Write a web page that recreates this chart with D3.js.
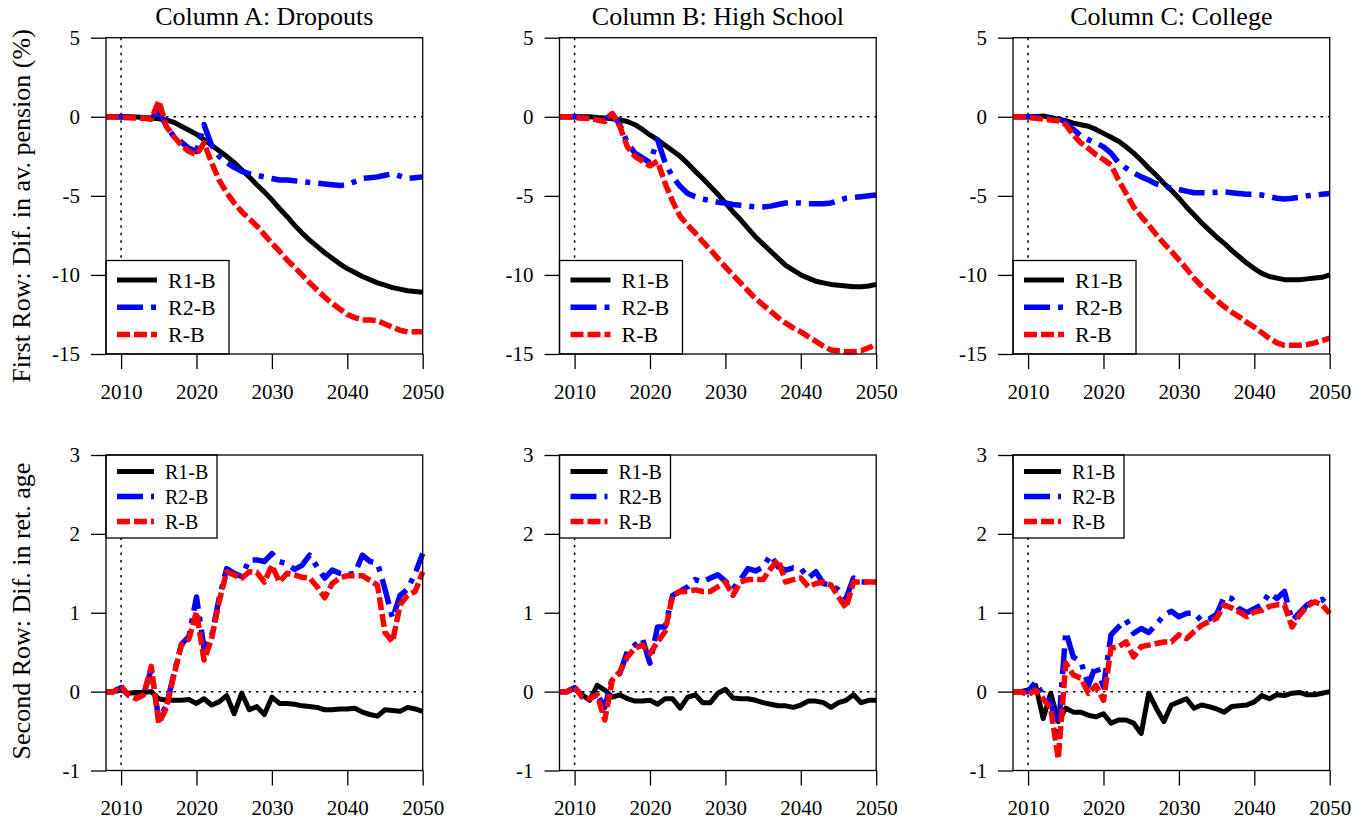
<!DOCTYPE html>
<html>
<head>
<meta charset="utf-8">
<script src="https://cdn.jsdelivr.net/npm/d3@7"></script>
<style>
  body { margin: 0; background: #fff; }
  svg text { font-family: "Liberation Serif", "DejaVu Serif", serif; fill: #000; }
</style>
</head>
<body>
<div id="chart"></div>
<script>
const years = [2008, 2009, 2010, 2011, 2012, 2013, 2014, 2015, 2016, 2017, 2018, 2019, 2020,
  2021, 2022, 2023, 2024, 2025, 2026, 2027, 2028, 2029, 2030, 2031, 2032, 2033, 2034, 2035,
  2036, 2037, 2038, 2039, 2040, 2041, 2042, 2043, 2044, 2045, 2046, 2047, 2048, 2049, 2050];

const columnTitles = ["Column A: Dropouts", "Column B: High School", "Column C: College"];
const rowTitles = ["First Row: Dif. in av. pension (%)", "Second Row: Dif. in ret. age"];
const seriesNames = ["R1-B", "R2-B", "R-B"];
const xTicks = [2010, 2020, 2030, 2040, 2050];
const yTicksTop = [5, 0, -5, -10, -15];
const yTicksBottom = [3, 2, 1, 0, -1];

// first row: difference in average pension (%)
const pensionA_R1 = [0, 0, 0, 0, -0.02, -0.05, -0.08, -0.12, -0.2, -0.35, -0.6, -0.85, -1.1, -1.45, -1.8, -2.15, -2.5, -2.9, -3.35, -3.8, -4.3, -4.75, -5.25, -5.8, -6.3, -6.85, -7.35, -7.8, -8.2, -8.6, -8.95, -9.3, -9.6, -9.85, -10.1, -10.3, -10.5, -10.65, -10.8, -10.9, -11.0, -11.05, -11.1];
const pensionA_R2 = [0, 0, -0.02, -0.05, -0.05, -0.08, -0.1, 0.4, -0.6, -1.25, -1.6, -2.0, -2.2, -0.5, -1.8, -2.5, -2.9, -3.2, -3.45, -3.6, -3.7, -3.8, -3.9, -4.0, -4.0, -4.05, -4.1, -4.15, -4.2, -4.25, -4.3, -4.35, -4.3, -4.1, -3.9, -3.85, -3.8, -3.7, -3.6, -3.75, -3.9, -3.85, -3.8];
const pensionA_R = [0, 0, -0.05, -0.05, -0.1, -0.1, -0.15, 1.0, -0.6, -1.25, -1.8, -2.2, -2.4, -1.65, -2.9, -4.0, -4.8, -5.45, -6.0, -6.45, -6.9, -7.45, -8.0, -8.5, -9.05, -9.5, -10.0, -10.5, -10.95, -11.4, -11.8, -12.15, -12.5, -12.7, -12.85, -12.85, -12.9, -13.1, -13.3, -13.5, -13.6, -13.6, -13.6];

const pensionB_R1 = [0, 0, 0, 0, 0, -0.05, -0.08, -0.12, -0.2, -0.3, -0.5, -0.8, -1.15, -1.45, -1.8, -2.15, -2.5, -2.95, -3.45, -3.9, -4.4, -4.9, -5.45, -6.0, -6.5, -7.05, -7.6, -8.05, -8.5, -8.95, -9.4, -9.7, -10.0, -10.2, -10.4, -10.5, -10.6, -10.65, -10.7, -10.75, -10.75, -10.7, -10.6];
const pensionB_R2 = [0, 0, 0, -0.05, -0.1, -0.15, -0.2, 0.2, -0.5, -1.65, -2.3, -2.6, -2.9, -1.45, -2.9, -3.8, -4.4, -4.85, -5.05, -5.2, -5.3, -5.4, -5.45, -5.55, -5.6, -5.65, -5.7, -5.7, -5.65, -5.55, -5.45, -5.45, -5.45, -5.5, -5.5, -5.5, -5.45, -5.3, -5.15, -5.1, -5.05, -5.0, -4.95];
const pensionB_R = [0, 0, -0.05, -0.1, -0.1, -0.2, -0.3, 0.2, -0.6, -1.9, -2.5, -2.8, -3.1, -2.8, -4.2, -5.35, -6.3, -6.85, -7.35, -7.9, -8.4, -8.95, -9.5, -10.0, -10.5, -11.0, -11.5, -11.9, -12.3, -12.7, -13.05, -13.35, -13.6, -13.9, -14.2, -14.5, -14.75, -14.8, -14.85, -14.85, -14.8, -14.6, -14.4];

const pensionC_R1 = [0, 0, 0, 0.02, 0.05, -0.05, -0.15, -0.25, -0.4, -0.5, -0.6, -0.8, -1.05, -1.3, -1.55, -1.9, -2.3, -2.75, -3.25, -3.7, -4.2, -4.65, -5.15, -5.7, -6.2, -6.7, -7.15, -7.6, -8.0, -8.45, -8.85, -9.25, -9.6, -9.9, -10.1, -10.2, -10.3, -10.3, -10.3, -10.25, -10.2, -10.15, -10.0];
const pensionC_R2 = [0, 0, 0, 0, -0.05, -0.1, -0.1, -0.35, -0.8, -1.2, -1.45, -1.65, -1.9, -2.3, -2.9, -3.25, -3.55, -3.8, -4.0, -4.25, -4.4, -4.5, -4.6, -4.7, -4.8, -4.8, -4.8, -4.78, -4.75, -4.8, -4.85, -4.9, -4.9, -4.95, -5.05, -5.15, -5.2, -5.15, -5.1, -5.0, -4.95, -4.9, -4.85];
const pensionC_R = [0, 0, -0.05, -0.1, -0.15, -0.2, -0.25, -0.5, -1.15, -1.65, -2.0, -2.4, -2.7, -3.05, -4.0, -4.85, -5.7, -6.3, -6.85, -7.45, -8.0, -8.5, -9.05, -9.6, -10.2, -10.7, -11.15, -11.6, -12.0, -12.35, -12.65, -13.0, -13.3, -13.65, -14.0, -14.3, -14.45, -14.45, -14.45, -14.4, -14.3, -14.15, -14.0];

// second row: difference in retirement age
const retireA_R1 = [0, 0, 0.02, -0.02, -0.01, -0.01, 0, -0.09, -0.11, -0.11, -0.11, -0.1, -0.15, -0.09, -0.17, -0.13, -0.05, -0.28, -0.02, -0.23, -0.19, -0.29, -0.07, -0.15, -0.15, -0.16, -0.18, -0.19, -0.2, -0.23, -0.23, -0.22, -0.22, -0.21, -0.26, -0.29, -0.31, -0.23, -0.24, -0.25, -0.2, -0.22, -0.25];
const retireA_R2 = [0, 0, 0.05, -0.05, -0.08, -0.03, 0.28, -0.35, -0.18, 0.22, 0.6, 0.7, 1.2, 0.55, 0.7, 1.18, 1.56, 1.5, 1.46, 1.67, 1.67, 1.65, 1.75, 1.65, 1.62, 1.55, 1.6, 1.73, 1.58, 1.44, 1.54, 1.5, 1.48, 1.5, 1.73, 1.65, 1.63, 1.3, 0.93, 1.22, 1.3, 1.5, 1.75];
const retireA_R = [0, 0, 0.07, -0.05, -0.09, -0.04, 0.32, -0.4, -0.21, 0.21, 0.59, 0.67, 1.01, 0.4, 0.67, 1.14, 1.52, 1.48, 1.44, 1.52, 1.51, 1.39, 1.6, 1.39, 1.5, 1.48, 1.45, 1.44, 1.33, 1.19, 1.37, 1.44, 1.47, 1.47, 1.47, 1.41, 1.35, 0.75, 0.63, 1.1, 1.22, 1.27, 1.52];

const retireB_R1 = [0, 0, 0.04, -0.04, -0.11, 0.08, 0.02, -0.07, -0.04, -0.09, -0.12, -0.12, -0.11, -0.16, -0.09, -0.09, -0.21, -0.07, -0.04, -0.14, -0.14, -0.02, 0.03, -0.08, -0.09, -0.09, -0.11, -0.14, -0.16, -0.18, -0.18, -0.2, -0.17, -0.12, -0.12, -0.14, -0.2, -0.14, -0.11, -0.04, -0.14, -0.11, -0.11];
const retireB_R2 = [0, 0, 0.05, -0.05, -0.08, -0.04, -0.2, 0.17, 0.23, 0.51, 0.59, 0.67, 0.36, 0.82, 0.82, 1.22, 1.27, 1.33, 1.42, 1.39, 1.44, 1.48, 1.4, 1.3, 1.42, 1.56, 1.53, 1.58, 1.73, 1.58, 1.54, 1.57, 1.56, 1.44, 1.52, 1.37, 1.35, 1.29, 1.18, 1.44, 1.39, 1.39, 1.39];
const retireB_R = [0, 0, 0.06, -0.07, -0.09, -0.04, -0.36, 0.15, 0.25, 0.44, 0.55, 0.59, 0.48, 0.63, 0.76, 1.22, 1.27, 1.27, 1.29, 1.27, 1.27, 1.33, 1.39, 1.22, 1.39, 1.42, 1.42, 1.42, 1.56, 1.67, 1.39, 1.42, 1.44, 1.33, 1.37, 1.39, 1.35, 1.2, 1.06, 1.39, 1.39, 1.39, 1.39];

const retireC_R1 = [0, 0, 0.02, 0.08, -0.34, -0.02, -0.38, -0.21, -0.26, -0.26, -0.3, -0.32, -0.28, -0.4, -0.36, -0.36, -0.4, -0.53, -0.02, -0.21, -0.38, -0.17, -0.13, -0.09, -0.21, -0.17, -0.19, -0.22, -0.26, -0.19, -0.18, -0.17, -0.13, -0.05, -0.09, -0.04, -0.05, -0.02, -0.01, -0.04, -0.04, -0.02, 0];
const retireC_R2 = [0, 0, 0, 0.12, -0.05, -0.13, -0.51, 0.76, 0.44, 0.38, 0.08, 0.34, 0.06, 0.72, 0.82, 0.91, 0.74, 0.8, 0.75, 0.85, 0.97, 1.02, 0.95, 0.99, 1.0, 0.9, 0.92, 0.98, 1.2, 1.18, 1.05, 1.0, 1.05, 1.1, 1.25, 1.18, 1.27, 0.9, 1.0, 1.1, 1.15, 1.17, 1.08];
const retireC_R = [0, 0, -0.04, 0.02, -0.09, -0.21, -0.85, 0.36, 0.21, 0.17, -0.02, 0.08, -0.11, 0.55, 0.57, 0.63, 0.44, 0.57, 0.59, 0.61, 0.63, 0.63, 0.72, 0.67, 0.76, 0.84, 0.89, 0.93, 1.1, 1.06, 1.01, 0.95, 1.01, 1.03, 1.08, 1.1, 1.1, 0.82, 0.97, 1.08, 1.14, 1.1, 0.99];

const panelData = [
  [[pensionA_R1, pensionA_R2, pensionA_R], [pensionB_R1, pensionB_R2, pensionB_R], [pensionC_R1, pensionC_R2, pensionC_R]],
  [[retireA_R1, retireA_R2, retireA_R], [retireB_R1, retireB_R2, retireB_R], [retireC_R1, retireC_R2, retireC_R]]
];

const lineStyles = [
  { color: "#000000", width: 5, dash: null },
  { color: "#0000ff", width: 5.5, dash: "26,8,5,8" },
  { color: "#ff0000", width: 5.5, dash: "13,4" }
];

const W = 1372, H = 823;
const FONT = '"Liberation Serif", "DejaVu Serif", serif';
const panelLefts = [106, 559.5, 1013];
const panelW = 316.7;
const rows = [
  { top: 37.7, bottom: 354, domain: [-15, 5], ticks: yTicksTop, titleY: 206,
    legend: { pos: "bottom", w: 123, h: 93.5, gap: 27.3, font: 22, len: 40 } },
  { top: 455, bottom: 770.5, domain: [-1, 3], ticks: yTicksBottom, titleY: 611,
    legend: { pos: "top", w: 111, h: 83, gap: 25, font: 20, len: 37 } }
];

const svg = d3.select("#chart").append("svg")
  .attr("width", W)
  .attr("height", H);

function drawPanel(row, col) {
  const r = rows[row];
  const left = panelLefts[col];
  const x = d3.scaleLinear().domain([2008, 2050]).range([left, left + panelW]);
  const y = d3.scaleLinear().domain(r.domain).range([r.bottom, r.top]);
  const g = svg.append("g");

  // axes with outward ticks
  g.append("g")
    .attr("transform", `translate(0,${r.bottom})`)
    .call(d3.axisBottom(x).tickValues(xTicks).tickFormat(d => String(d)).tickSize(15).tickSizeOuter(0))
    .call(a => a.attr("font-family", FONT))
    .call(a => a.select(".domain").remove())
    .call(a => a.selectAll("line").attr("stroke", "#000").attr("stroke-width", 1.3))
    .call(a => a.selectAll("text").attr("y", 30).attr("dy", "0.71em")
      .style("font-family", FONT).style("font-size", "21px"));

  g.append("g")
    .attr("transform", `translate(${left},0)`)
    .call(d3.axisLeft(y).tickValues(r.ticks).tickFormat(d => String(d)).tickSize(15).tickSizeOuter(0))
    .call(a => a.attr("font-family", FONT))
    .call(a => a.select(".domain").remove())
    .call(a => a.selectAll("line").attr("stroke", "#000").attr("stroke-width", 1.3))
    .call(a => a.selectAll("text").attr("x", -26)
      .style("font-family", FONT).style("font-size", "21px"));

  // reference lines
  g.append("line")
    .attr("x1", x(2010)).attr("x2", x(2010))
    .attr("y1", r.top).attr("y2", r.bottom)
    .attr("stroke", "#000").attr("stroke-width", 1.5).attr("stroke-dasharray", "2.5,5");
  g.append("line")
    .attr("x1", left).attr("x2", left + panelW)
    .attr("y1", y(0)).attr("y2", y(0))
    .attr("stroke", "#000").attr("stroke-width", 1.5).attr("stroke-dasharray", "2.5,5");

  // series
  const line = d3.line().x((d, i) => x(years[i])).y(d => y(d));
  panelData[row][col].forEach((vals, k) => {
    const st = lineStyles[k];
    g.append("path")
      .datum(vals)
      .attr("d", line)
      .attr("fill", "none")
      .attr("stroke", st.color)
      .attr("stroke-width", st.width)
      .attr("stroke-linejoin", "round")
      .attr("stroke-dasharray", st.dash);
  });

  // legend
  const L = r.legend;
  const ly = L.pos === "bottom" ? r.bottom - L.h : r.top;
  const lg = g.append("g").attr("transform", `translate(${left},${ly})`);
  lg.append("rect")
    .attr("width", L.w).attr("height", L.h)
    .attr("fill", "#fff").attr("stroke", "#000").attr("stroke-width", 1.3);
  seriesNames.forEach((name, k) => {
    const st = lineStyles[k];
    const cy = L.h / 2 + (k - 1) * L.gap;
    lg.append("line")
      .attr("x1", 11).attr("x2", 11 + L.len)
      .attr("y1", cy).attr("y2", cy)
      .attr("stroke", st.color).attr("stroke-width", st.width)
      .attr("stroke-dasharray", st.dash);
    lg.append("text")
      .attr("x", 11 + L.len + 11)
      .attr("y", cy)
      .attr("dy", "0.35em")
      .style("font-size", L.font + "px")
      .text(name);
  });

  // box
  g.append("rect")
    .attr("x", left).attr("y", r.top)
    .attr("width", panelW).attr("height", r.bottom - r.top)
    .attr("fill", "none").attr("stroke", "#000").attr("stroke-width", 1.3);

  if (row === 0) {
    svg.append("text")
      .attr("x", left + panelW / 2)
      .attr("y", 25)
      .attr("text-anchor", "middle")
      .style("font-size", "26px")
      .text(columnTitles[col]);
  }
  if (col === 0) {
    svg.append("text")
      .attr("transform", `translate(30,${r.titleY}) rotate(-90)`)
      .attr("text-anchor", "middle")
      .style("font-size", "26px")
      .text(rowTitles[row]);
  }
}

for (let row = 0; row < 2; row++) {
  for (let col = 0; col < 3; col++) drawPanel(row, col);
}
</script>
</body>
</html>
